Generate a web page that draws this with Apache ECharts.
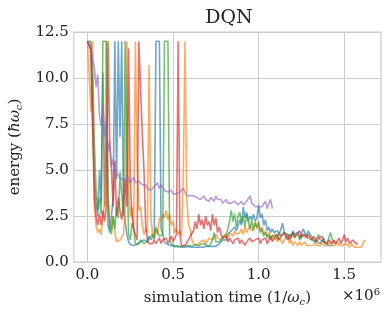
<!DOCTYPE html>
<html><head><meta charset="utf-8">
<script src="https://cdn.jsdelivr.net/npm/echarts@6/dist/echarts.min.js"></script>
<style>html,body{margin:0;padding:0;background:#fff}#c{width:390px;height:312px}</style>
</head><body><div id="c"></div>
<script>
// time step between samples, in units of 1e6 / omega_c
const step = 0.01;
const xTicks = [0, 0.5, 1.0, 1.5];
const yTicks = [0, 2.5, 5, 7.5, 10, 12.5];
const seriesNames = ['run 1', 'run 2', 'run 3', 'run 4', 'run 5'];

const blue = [
12,12,11.5,8,4.5,3.2,2.5,5.0,3.2,10.3,
3.0,7.8,2.0,1.6,2.5,3.5,12,4.5,12,6.8,
12,3.0,2.2,1.5,1.1,0.95,0.9,0.9,1.0,0.95,
1.0,1.1,1.0,1.2,1.3,1.1,1.4,1.2,1.3,1.5,
12,12,12,1.8,1.5,1.1,1.0,0.95,0.9,0.9,
0.85,0.85,0.8,0.85,0.8,0.8,0.85,0.8,0.8,0.85,
0.8,0.8,0.85,0.8,0.8,0.8,0.85,0.8,0.8,0.85,
0.8,0.85,0.8,0.85,0.9,0.85,0.9,1.0,1.0,1.2,
1.3,1.2,1.5,1.4,1.7,1.6,1.9,1.7,2.0,2.3,
2.0,3.0,2.4,2.7,2.2,2.5,2.3,2.6,2.2,2.4,
3.1,2.4,2.6,2.0,2.3,1.7,1.9,1.6,1.8,1.6,
1.5,1.7,1.5,1.8,2.1,1.6,1.7,1.5,1.6,1.4,
1.7,1.5,1.4,1.6,1.3,1.5,1.8,1.6,1.4,1.7,
1.5,1.4,1.2,1.3,1.1,1.2,1.0,1.1,1.3,1.0,
1.1,0.9,1.0,0.9];

const orange = [
12,12,8.2,12,3.0,2.0,1.6,1.8,1.5,2.4,
3.2,12,3.5,2.0,1.8,2.5,1.6,1.1,1.0,1.2,
1.1,1.5,2.8,12,4.0,2.5,3.0,1.8,12,5.5,
2.8,3.0,2.0,1.5,1.8,1.6,10.7,2.5,1.5,1.2,
1.8,1.5,2.4,2.2,2.6,2.4,2.8,2.3,2.6,2.0,
2.2,1.6,1.8,1.5,1.7,1.4,5.0,12,3.5,2.0,
1.8,1.2,1.0,1.0,0.9,1.0,1.1,1.0,1.2,1.0,
1.1,1.3,1.4,1.2,1.3,1.5,1.3,1.4,1.2,1.3,
1.5,1.4,1.3,1.6,1.5,1.4,1.7,1.5,1.4,1.6,
1.8,1.5,1.9,1.6,1.8,2.0,1.7,1.9,2.2,1.8,
2.0,1.7,1.9,1.5,1.7,1.4,1.6,1.3,1.5,1.2,
1.4,1.1,1.3,1.2,1.0,1.2,1.1,1.3,1.0,1.2,
0.9,1.1,1.0,0.9,1.1,0.9,1.0,1.1,0.9,1.0,
0.9,1.0,0.9,1.1,0.9,1.0,0.9,1.1,0.9,1.0,
0.9,1.0,1.1,0.9,1.0,0.9,1.1,0.9,1.0,0.9,
1.0,1.0,0.9,0.8,1.0,0.9,0.8,0.9,0.8,0.9,
0.8,0.9,1.2];

const green = [
12,12,12,10,6.5,4.0,2.8,3.5,2.6,12,
12,12,3.5,2.0,1.5,2.5,1.8,3.0,2.4,4.9,
3.6,2.5,12,6.0,1.5,1.2,2.1,1.8,1.0,1.1,
1.0,1.2,1.1,1.0,0.9,1.1,1.3,1.2,1.5,1.3,
1.9,1.6,1.4,1.3,1.5,12,12,12,1.2,1.0,
0.9,0.85,0.8,0.85,0.9,0.85,0.8,0.9,0.85,0.9,
0.8,0.85,0.9,0.95,0.85,0.9,0.85,1.0,0.9,0.95,
0.9,0.85,1.0,1.2,1.6,1.1,1.0,1.1,1.2,1.3,
1.2,1.5,1.8,2.2,2.8,2.2,2.6,1.9,2.5,2.7,
2.1,2.5,1.9,2.6,2.2,1.8,2.3,1.7,2.1,1.9,
2.2,1.6,1.8,1.4,1.6,1.3,1.5,1.2,1.4,1.3,
1.5,1.2,1.6,1.4,1.3,1.6,1.4,1.2,1.5,1.3,
1.6,1.4,1.3,1.5,1.2,1.4,1.3,1.5,1.6,1.3,
1.4,1.2,1.3,1.1,1.3,1.5,1.2,1.3,1.1,1.2,
1.0,1.3,1.6,1.2,1.1,1.0];

const red = [
12,12,11.5,7,3.5,2.5,2.0,2.6,2.0,2.8,
2.2,3.0,12,6.5,5.0,3.0,5.5,2.5,3.5,2.8,
2.3,3.0,4.5,3.0,11.6,4.5,2.5,1.8,1.5,1.2,
12,12,7.0,5.0,2.0,1.2,1.0,1.1,1.0,1.2,
1.0,1.1,1.3,1.0,1.2,1.1,1.3,1.0,1.2,1.4,
1.1,1.3,1.5,12,1.5,0.9,0.8,0.9,1.0,1.2,
1.4,1.3,1.7,2.2,1.8,2.6,2.0,2.3,1.8,2.5,
2.0,2.2,1.7,2.6,2.0,2.4,1.6,1.9,1.5,1.3,
1.2,1.4,1.1,1.3,1.2,1.0,1.2,1.1,1.3,1.0,
1.2,1.1,0.9,1.1,1.0,1.3,1.1,1.0,1.2,1.1,
1.3,1.0,1.2,1.1,1.3,1.0,1.2,1.4,1.1,1.3,
1.2,1.5,1.2,1.4,1.3,1.6,1.3,1.5,1.2,1.4,
1.6,1.3,1.5,1.4,1.7,1.3,1.5,1.6,1.3,1.5,
1.4,1.2,1.4,1.3,1.1,1.3,1.2,1.4,1.1,1.2,
1.0,1.2,1.1,1.0,1.2,1.0,1.1,1.3,1.0,1.2,
1.5,1.1,1.3,1.0,1.1,1.2,1.1,1.0,1.0];

const purple = [
12,12,11.8,11.0,10.6,9.5,10.2,8.0,7.4,8.6,
6.8,7.6,6.0,6.5,5.2,5.6,4.9,5.0,4.7,4.8,
4.5,4.6,4.4,4.7,4.5,4.3,4.4,4.6,4.3,4.2,
4.4,4.3,4.2,4.1,4.2,4.0,4.1,3.9,4.0,4.1,
4.0,4.3,4.0,4.2,4.1,3.9,4.0,3.8,3.8,3.9,
3.7,3.8,3.7,3.6,3.8,3.7,4.0,3.8,3.6,3.7,
3.6,3.5,3.6,3.5,3.5,3.6,3.4,3.5,3.6,3.4,
3.5,3.3,3.5,3.4,3.3,3.6,3.4,3.3,3.4,3.2,
3.3,3.4,3.2,3.3,3.2,3.1,3.3,3.2,3.1,3.2,
3.3,3.1,3.2,3.3,3.4,3.6,3.2,3.1,3.0,3.1,
3.0,3.1,3.0,3.1,3.3,2.9,3.2,3.4,2.9];

const colors = ['#1f77b4', '#ff7f0e', '#2ca02c', '#d62728', '#9467bd'];
const allY = [blue, orange, green, red, purple];

const FONT = 'DejaVu Serif';
const chart = echarts.init(document.getElementById('c'), null, {renderer: 'canvas'});
chart.setOption({
  animation: false,
  backgroundColor: '#ffffff',
  title: {
    text: 'DQN', left: 224, top: 4, textAlign: 'center',
    textStyle: {fontFamily: FONT, fontSize: 19, fontWeight: 'normal', color: '#222'}
  },
  grid: {left: 67, right: 9, top: 32, bottom: 48, show: true, borderColor: '#cccccc', borderWidth: 1.2},
  xAxis: {
    type: 'value', min: -0.08, max: 1.715,
    axisLine: {show: false},
    axisTick: {show: false, customValues: xTicks},
    axisLabel: {customValues: xTicks, margin: 6, formatter: v => v.toFixed(1),
      fontFamily: FONT, fontSize: 15, color: '#222'},
    splitLine: {show: true, lineStyle: {color: '#cccccc', width: 1}},
    name: '{t|simulation time (1/}{m|ω}{s|c}{t|)}',
    nameLocation: 'middle', nameGap: 27,
    nameTextStyle: {rich: {
      t: {fontFamily: FONT, fontSize: 15, color: '#222'},
      m: {fontFamily: FONT, fontSize: 15, fontStyle: 'italic', color: '#222'},
      s: {fontFamily: FONT, fontSize: 10, fontStyle: 'italic', color: '#222', padding: [8, 0, 0, 0]}
    }}
  },
  yAxis: {
    type: 'value', min: 0, max: 12.5, interval: 2.5,
    axisLine: {show: false},
    axisTick: {show: false},
    axisLabel: {margin: 5, formatter: v => v.toFixed(1), fontFamily: FONT, fontSize: 15, color: '#222'},
    splitLine: {show: true, lineStyle: {color: '#cccccc', width: 1}},
    name: '{t|energy (}{m|ħω}{s|c}{t|)}',
    nameLocation: 'middle', nameGap: 47,
    nameTextStyle: {rich: {
      t: {fontFamily: FONT, fontSize: 15, color: '#222'},
      m: {fontFamily: FONT, fontSize: 15, fontStyle: 'italic', color: '#222'},
      s: {fontFamily: FONT, fontSize: 10, fontStyle: 'italic', color: '#222', padding: [8, 0, 0, 0]}
    }}
  },
  graphic: [{
    type: 'text', left: 342, top: 287,
    style: {text: '×10{p|6}', fontFamily: FONT, fontSize: 15, fill: '#222',
      rich: {p: {fontFamily: FONT, fontSize: 10, fill: '#222', padding: [0, 0, 8, 0]}}}
  }],
  series: allY.map((ys, k) => ({
    name: seriesNames[k],
    type: 'line',
    showSymbol: false,
    symbol: 'none',
    data: ys.map((v, i) => [i * step, v]),
    lineStyle: {color: colors[k], width: 1.6, opacity: 0.65},
    itemStyle: {color: colors[k]},
    z: 2 + k
  }))
});
</script></body></html>
